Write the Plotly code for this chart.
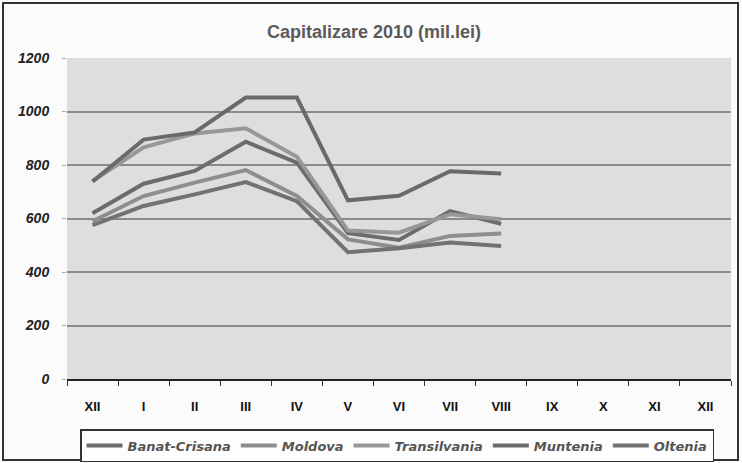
import plotly.graph_objects as go

months = ["XII", "I", "II", "III", "IV", "V", "VI", "VII", "VIII", "IX", "X", "XI", "XII"]
x_pos = list(range(len(months)))

series_names = ["Banat-Crisana", "Moldova", "Transilvania", "Muntenia", "Oltenia"]
banat = [620, 730, 778, 887, 809, 545, 520, 628, 580]
moldova = [590, 684, 734, 781, 684, 522, 491, 535, 544]
transilvania = [740, 866, 918, 937, 831, 555, 547, 616, 597]
muntenia = [738, 895, 922, 1052, 1052, 668, 685, 777, 768]
oltenia = [575, 647, 690, 736, 665, 474, 489, 510, 497]
series_values = [banat, moldova, transilvania, muntenia, oltenia]
colors = ["#6c6c6c", "#8e8e8e", "#979797", "#6a6a6a", "#727272"]

y_ticks = [0, 200, 400, 600, 800, 1000, 1200]

fig = go.Figure()
for name, vals, col in zip(series_names, series_values, colors):
    fig.add_trace(go.Scatter(
        x=x_pos[:len(vals)], y=vals, mode="lines", name=name,
        line=dict(color=col, width=4),
    ))

fig.update_layout(
    width=742, height=463,
    margin=dict(l=67, r=11, t=58, b=84, autoexpand=False),
    paper_bgcolor="#fbfbfb",
    plot_bgcolor="#dedede",
    font=dict(family="Liberation Sans, Arial, sans-serif", color="#111"),
    title=dict(text="Capitalizare 2010 (mil.lei)", x=374 / 742, xanchor="center",
               y=1 - 32 / 463, yanchor="middle", yref="container",
               font=dict(size=18, color="#5a5a5a", weight="bold")),
    showlegend=True,
    legend=dict(orientation="h", x=(397 - 67) / 664, xanchor="center",
                y=(379 - 429) / 321, yanchor="top",
                bordercolor="#333", borderwidth=1.5, bgcolor="#fdfdfd",
                font=dict(size=13, color="#555", family="DejaVu Sans, sans-serif",
                          style="italic", weight="bold"),
                itemwidth=36, tracegroupgap=0),
    xaxis=dict(
        range=[-0.5, len(months) - 0.5], automargin=False,
        tickvals=x_pos, ticktext=months,
        ticks="", showgrid=False, zeroline=False,
        showline=True, linecolor="#222", linewidth=2,
        tickfont=dict(size=13, color="#111", weight="bold"),
        ticklabelstandoff=14,
        minor=dict(tickvals=[i - 0.5 for i in range(len(months) + 1)],
                   ticks="outside", ticklen=5, tickwidth=1, tickcolor="#333",
                   showgrid=False),
    ),
    yaxis=dict(
        range=[0, 1200], tickvals=y_ticks, automargin=False,
        showgrid=True, gridcolor="#8a8a8a", gridwidth=2,
        zeroline=False, showline=False,
        ticks="outside", ticklen=4, tickcolor="#aaa",
        tickfont=dict(size=14, color="#222", style="italic", weight="bold"),
        ticklabelstandoff=10,
    ),
)

fig.add_shape(type="rect", xref="paper", yref="paper",
              x0=(3 - 67) / 664, x1=(738 - 67) / 664,
              y0=(379 - 460) / 321, y1=(379 - 3) / 321,
              line=dict(color="#333", width=2), fillcolor="rgba(0,0,0,0)", layer="below")

fig.write_html("out.html", config={"displayModeBar": False},
               post_script="document.body.style.margin='0';")
